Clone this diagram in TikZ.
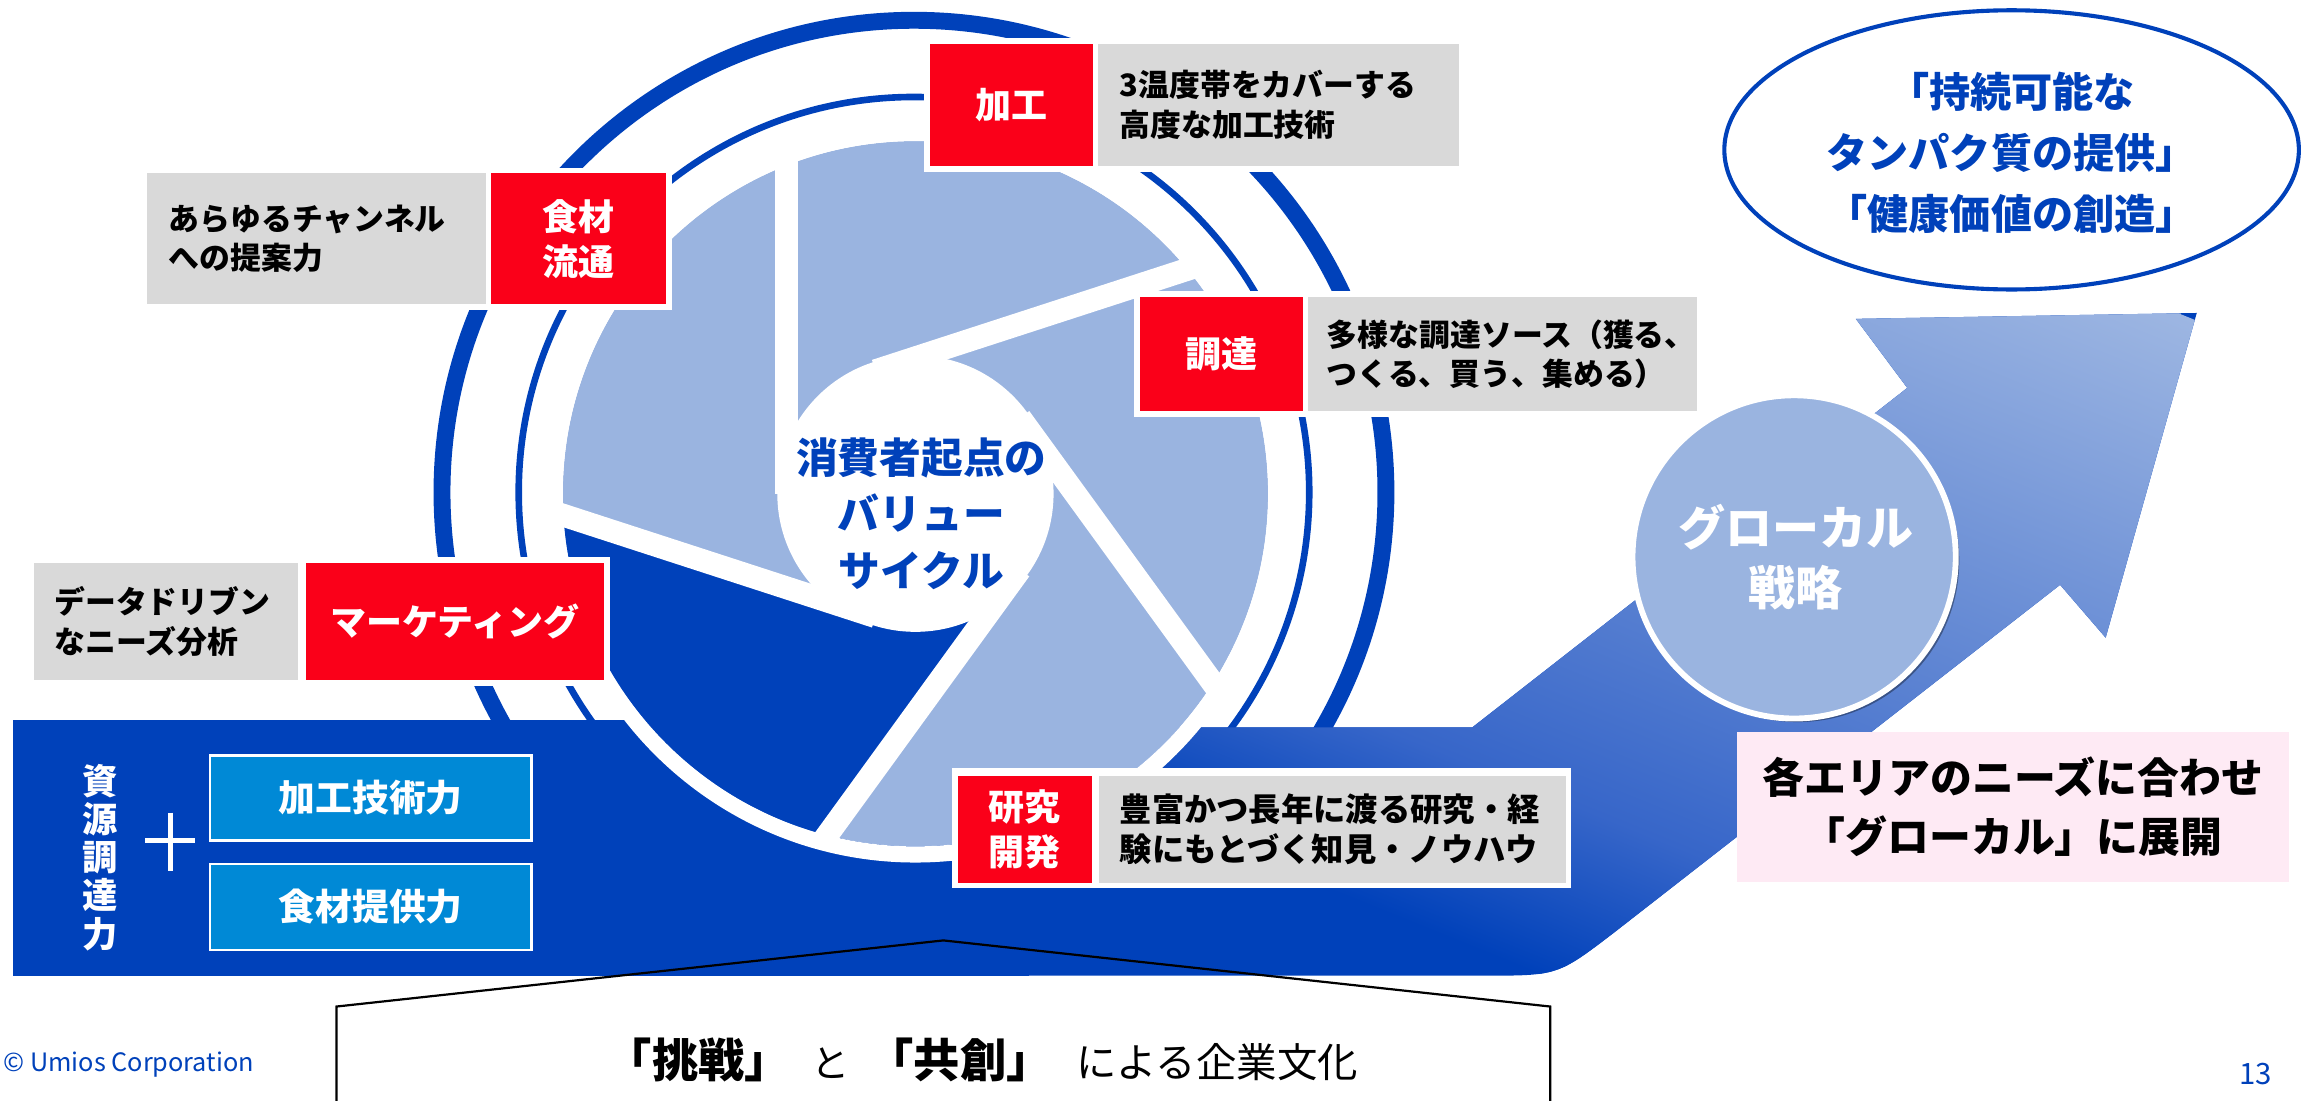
\documentclass[tikz,border=0pt]{standalone}
\usepackage{fontspec}
\setmainfont{Noto Sans CJK JP}
\usetikzlibrary{calc,shapes.geometric,shadows}
\definecolor{umblue}{HTML}{0041BA}
\definecolor{umlight}{HTML}{9AB4E0}
\definecolor{umred}{HTML}{FA0019}
\definecolor{umgray}{HTML}{D9D9D9}
\definecolor{umcyan}{HTML}{0089D6}
\definecolor{umpink}{HTML}{FEEAF4}
\definecolor{arrowmid}{HTML}{3766C9}
\definecolor{arrowlight}{HTML}{9DB6E2}
\pgfdeclareverticalshading{arrowshade}{100bp}{color(0bp)=(umblue); color(25bp)=(umblue); color(35bp)=(arrowmid); color(75bp)=(arrowlight); color(100bp)=(arrowlight)}
\newcommand\fs[2]{\fontsize{#1}{#2}\selectfont}
\begin{document}
\begin{tikzpicture}[x=0.5pt,y=-0.5pt,
  redbox/.style={fill=umred,text=white,font=\bfseries\fs{12.25pt}{15.25pt},align=center,inner sep=0pt},
  graybox/.style={fill=umgray,inner sep=0pt},
  graytxt/.style={text=black,font=\bfseries\fs{10.5pt}{13.5pt},align=left,inner sep=0pt,anchor=west},
  padbox/.style={fill=white},
  cyanbox/.style={fill=umcyan,draw=white,line width=0.9pt,text=white,font=\bfseries\fs{12.5pt}{15pt},inner sep=0pt},
  bluetxt/.style={text=umblue,font=\bfseries,align=center,inner sep=0pt}]
\useasboundingbox (0,0) rectangle (1568,749);
\clip (0,0) rectangle (1568,749);
\coordinate (C) at (623,336);
\coordinate (R) at (622,335);
% rings
\draw[umblue,line width=5.75pt] (R) circle[radius=160.6pt];
\draw[umblue,line width=2.25pt] (R) circle[radius=134.5pt];
% goal ellipse
\node[ellipse,draw=umblue,line width=1.4pt,minimum width=195.5pt,minimum height=95pt,inner sep=0pt] (goal) at (1369,102) {};
\node[bluetxt,font=\bfseries\fs{14pt}{20.85pt}] (goaltxt) at (1369,104) {「持続可能な\\タンパク質の提供」\\「健康価値の創造」};
% band and arrow
\fill[umblue] (9,490) rectangle (700,664);
\begin{scope}
  \clip (600,495) -- (1002,495) -- (1298,264) -- (1263,217) -- (1495,213) -- (1433,434) -- (1402,398)
    -- (1098,635) .. controls (1060,664) .. (1009,664) -- (600,664) -- cycle;
  \fill[umblue] (590,200) rectangle (1510,670);
  \begin{scope}[transform canvas={rotate around={-22:(1050,664)}}]
    \shade[shading=arrowshade] (350,664) rectangle (1750,84);
  \end{scope}
\end{scope}
% callout outline
\coordinate (cl1) at (229,760);
\coordinate (cl2) at (229,685);
\coordinate (cl3) at (642,640);
\coordinate (cl4) at (1055,685);
\coordinate (cl5) at (1055,760);
\draw[black,line width=0.75pt] (cl1) -- (cl2) -- (cl3) -- (cl4) -- (cl5);
\node[anchor=base west,inner sep=0pt] (culture) at (412,733)
  {{\bfseries\fs{15.75pt}{18pt}「挑戦」}\hspace{7pt}{\fs{13pt}{16pt}と}\hspace{6pt}{\bfseries\fs{15.75pt}{18pt}「共創」}\hspace{8pt}{\fs{13.75pt}{16pt}による企業文化}};
% glocal circle
\node[circle,fill=umlight,draw=white,line width=2pt,minimum size=110pt,inner sep=0pt,
  drop shadow={shadow xshift=1.2pt,shadow yshift=-1.2pt,opacity=0.35,fill=black}] (glocal) at (1221,379) {};
\node[text=white,font=\bfseries\fs{16pt}{20.5pt},align=center,inner sep=0pt] (glocaltxt) at (1222,379) {グローカル\\戦略};
% pink box
\node[fill=umpink,minimum width=188pt,minimum height=51pt,inner sep=0pt,text=black,
  font=\bfseries\fs{14.25pt}{20pt},align=center] (pink) at (1370,549) {各エリアのニーズに合わせ\\「グローカル」に展開};
% value cycle disc
\fill[umlight] (C) circle[radius=120pt];
\draw[white,line width=5.5pt] (C) circle[radius=122.75pt];
\begin{scope}
  \clip (C) circle[radius=120pt];
  \fill[umblue] ($(C)+(-108:44pt)$) -- ++(162:150pt) -- ($(C)+(219:220pt)$)
    -- ($(C)+(-36:44pt)+(-126:150pt)$) -- ($(C)+(-36:44pt)$) -- cycle;
\end{scope}
\foreach \a in {180,108,36,-36,-108}
  \draw[white,line width=7.75pt] ($(C)+(\a:44pt)$) -- ++({\a-90}:116pt);
\fill[white] (C) circle[radius=47pt];
\node[bluetxt,font=\bfseries\fs{14.2pt}{19.25pt}] (hub) at (627,349.4) {消費者起点の\\バリュー\\サイクル};
% box pairs
\fill[padbox] (629,26) rectangle (997,117);
\node[redbox,minimum width=55.5pt,minimum height=41.5pt] (kakou) at (688.5,71.5) {加工};
\node[graybox,minimum width=123pt,minimum height=41.5pt] (kakoubox) at (870,71.5) {};
\node[graytxt] (kakoutxt) at ($(kakoubox.west)+(15,0)$) {3温度帯をカバーする\\高度な加工技術};

\fill[padbox] (96,114) rectangle (457,211);
\node[redbox,minimum width=59.5pt,minimum height=44.5pt] (ryutsu) at (393.5,162.5) {食材\\流通};
\node[graybox,minimum width=115.5pt,minimum height=44.5pt] (ryutsubox) at (215.5,162.5) {};
\node[graytxt] (ryutsutxt) at ($(ryutsubox.west)+(15,0)$) {あらゆるチャンネル\\への提案力};

\fill[padbox] (772,198) rectangle (1159,284);
\node[redbox,minimum width=55.5pt,minimum height=39pt] (chotatsu) at (831.5,241) {調達};
\node[graybox,minimum width=132.5pt,minimum height=39pt] (chotatsubox) at (1022.5,241) {};
\node[graytxt] (chotatsutxt) at ($(chotatsubox.west)+(13,0)$) {多様な調達ソース（獲る、\\つくる、買う、集める）};

\fill[padbox] (19,379) rectangle (415,467);
\node[redbox,minimum width=101.5pt,minimum height=40pt] (mkt) at (309.5,423) {マーケティング};
\node[graybox,minimum width=90pt,minimum height=40pt] (mktbox) at (113,423) {};
\node[graytxt] (mkttxt) at ($(mktbox.west)+(14,0)$) {データドリブン\\なニーズ分析};

\fill[padbox] (648,523) rectangle (1069,604);
\node[redbox,minimum width=45.5pt,minimum height=36.5pt] (rd) at (697.5,564.5) {研究\\開発};
\node[graybox,minimum width=159pt,minimum height=36.5pt] (rdbox) at (907,564.5) {};
\node[graytxt,font=\bfseries\fs{11pt}{13.75pt}] (rdtxt) at ($(rdbox.west)+(14,0)$) {豊富かつ長年に渡る研究・経\\験にもとづく知見・ノウハウ};
% resources
\node[text=white,font=\bfseries\fs{12pt}{13pt},align=center,inner sep=0pt] (shigen) at (68,583.5) {資\\源\\調\\達\\力};
\coordinate (pv1) at (116,553);
\coordinate (pv2) at (116,593);
\coordinate (ph1) at (99,572);
\coordinate (ph2) at (133,572);
\draw[white,line width=1.6pt] (pv1) -- (pv2);
\draw[white,line width=1.6pt] (ph1) -- (ph2);
\node[cyanbox,minimum width=109.25pt,minimum height=29pt] (kgr) at (252.25,543) {加工技術力};
\node[cyanbox,minimum width=109.25pt,minimum height=29.25pt] (sgr) at (252.25,617.25) {食材提供力};
% footer
\node[anchor=base west,text=umblue,font=\fs{8.6pt}{10pt},inner sep=0pt] (copy) at (2,729) {© Umios Corporation};
\node[text=umblue,font=\fs{10pt}{12pt},inner sep=0pt] (page) at (1535,731) {13};
\end{tikzpicture}
\end{document}
